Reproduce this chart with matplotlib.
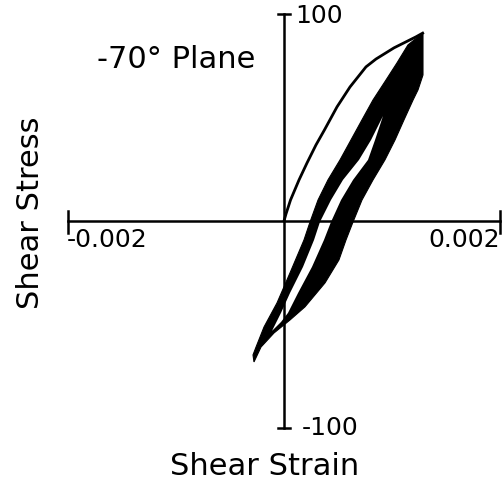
import matplotlib.pyplot as plt

# first loading branch, shear strain vs shear stress
load_strain = [0.0, 0.0000185, 0.0000602, 0.000139, 0.000213, 0.000296, 0.000375,
               0.000491, 0.000611, 0.000759, 0.000852, 0.001019, 0.001130, 0.001222,
               0.001284]
load_stress = [0.0, 3.4, 10.1, 19.8, 28.0, 36.7, 44.0, 55.1, 64.7, 74.4, 78.2, 83.6,
               86.5, 88.9, 90.7]

# envelope of the repeated cycles: right edge going down, left edge going up
band_strain = [0.001287, 0.001287, 0.001241, 0.001195, 0.001111, 0.001028, 0.000935,
               0.000824, 0.000722, 0.000639, 0.000574, 0.000509, 0.000380, 0.000194,
               0.000056, -0.0000926, -0.000213, -0.000278,
               -0.000287, -0.000259, -0.000185, -0.0000648, 0.0000556, 0.000185,
               0.000241, 0.000315, 0.000407, 0.000519, 0.000620, 0.000722,
               0.000824, 0.000945, 0.001046, 0.001148]
band_stress = [90.8, 70.5, 63.3, 58.4, 48.8, 39.1, 29.5, 19.8, 10.1, -0.5, -9.2, -18.8,
               -29.9, -41.5, -47.8, -54.1, -60.9, -68.1,
               -64.7, -60.9, -51.2, -39.6, -25.1, -9.2, -0.5, 10.1, 19.8, 29.5,
               39.1, 48.8, 58.4, 68.1, 76.3, 85.0]

# open part between the reloading and unloading branches
gap_strain = [0.000917, 0.000806, 0.000695, 0.000546, 0.000435, 0.000333, 0.000278,
              0.000176, 0.0000556, -0.0000278, -0.000111,
              -0.0000278, 0.0000370, 0.000130, 0.000259, 0.000370, 0.000435,
              0.000528, 0.000639, 0.000778, 0.000843]
gap_stress = [50.7, 39.1, 29.5, 19.8, 10.1, -0.5, -9.2, -22.2, -34.8, -44.4, -53.1,
              -48.8, -44.4, -34.8, -22.2, -9.2, -0.5, 10.1, 19.8, 29.5, 39.1]

strain_ends = [-0.002, 0.002]
stress_ends = [-100, 100]

fig = plt.figure(figsize=(5.03, 4.86), dpi=100)
ax = fig.add_axes([0, 0, 1, 1])
ax.set_xlim(-0.00263, 0.002028)
ax.set_ylim(-128.0, 106.7)
ax.axis('off')

ax.fill(band_strain, band_stress, color='black', lw=0.8, zorder=2)
ax.fill(gap_strain, gap_stress, color='white', lw=0, zorder=3)
ax.plot(load_strain, load_stress, color='black', lw=2.0, zorder=4,
        solid_joinstyle='round')

# axes through the origin with end caps
ax.plot(strain_ends, [0, 0], color='black', lw=1.8, zorder=5)
ax.plot([0, 0], stress_ends, color='black', lw=1.8, zorder=5)
for s in strain_ends:
  ax.plot([s, s], [-6, 5], color='black', lw=1.8, zorder=5)
for t in stress_ends:
  ax.plot([-0.00006, 0.00006], [t, t], color='black', lw=1.8, zorder=5)

fs = 18
ax.text(0.000102, 99.0, '100', fontsize=fs, ha='left', va='center')
ax.text(0.000167, -100.0, '-100', fontsize=fs, ha='left', va='center')
ax.text(-0.00201, -3.5, '-0.002', fontsize=fs, ha='left', va='top')
ax.text(0.002, -3.5, '0.002', fontsize=fs, ha='right', va='top')
ax.text(-0.001, 77.8, '-70° Plane', fontsize=22, ha='center', va='center')
ax.text(-0.00235, 3.9, 'Shear Stress', fontsize=22, ha='center', va='center', rotation=90)
ax.text(-0.000176, -118.8, 'Shear Strain', fontsize=22, ha='center', va='center')

fig.savefig('out.png', dpi=100)
